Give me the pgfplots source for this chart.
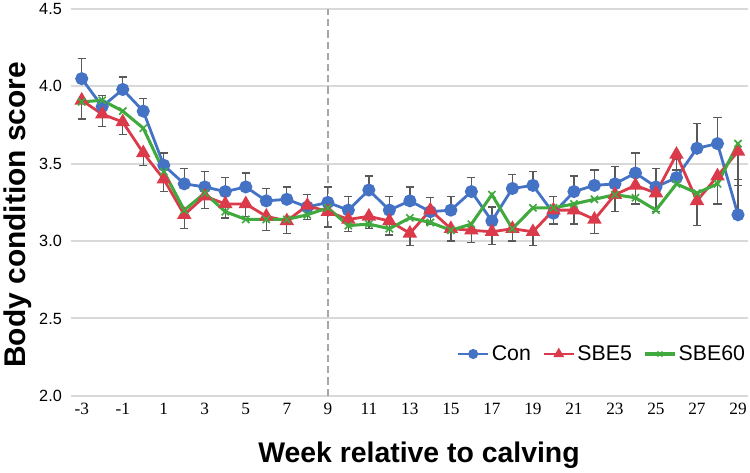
\documentclass[border=0pt]{standalone}
\usepackage{fontspec}
\setmainfont{Liberation Sans}
\newfontfamily\seriffont{Liberation Serif}
\usepackage{pgfplots}
\pgfplotsset{compat=1.18}
\usepackage{pgfplotstable}
\definecolor{conblue}{RGB}{68,114,196}
\definecolor{sbered}{RGB}{218,58,74}
\definecolor{sbegreen}{RGB}{64,170,62}
\definecolor{gridgray}{RGB}{217,217,217}
\definecolor{errgray}{RGB}{89,89,89}
\definecolor{dashgray}{RGB}{166,166,166}

\pgfplotstableread{
w con conE sbe5 sbe5E sbe60
-3 4.05 0.13 3.91 0.12 3.90
-2 3.87 0.07 3.82 0.08 3.91
-1 3.98 0.08 3.77 0.08 3.84
0 3.84 0.08 3.57 0.08 3.73
1 3.49 0.08 3.40 0.08 3.45
2 3.37 0.10 3.17 0.09 3.20
3 3.35 0.10 3.29 0.08 3.31
4 3.32 0.09 3.24 0.09 3.19
5 3.35 0.09 3.24 0.08 3.14
6 3.26 0.08 3.16 0.09 3.14
7 3.27 0.08 3.13 0.08 3.14
8 3.22 0.08 3.23 0.09 3.17
9 3.25 0.10 3.19 0.10 3.215
10 3.20 0.09 3.14 0.08 3.10
11 3.33 0.09 3.16 0.08 3.11
12 3.20 0.09 3.13 0.09 3.08
13 3.26 0.09 3.05 0.08 3.15
14 3.19 0.09 3.20 0.09 3.12
15 3.20 0.09 3.08 0.08 3.07
16 3.32 0.09 3.07 0.08 3.11
17 3.13 0.09 3.06 0.08 3.30
18 3.34 0.09 3.08 0.08 3.08
19 3.36 0.09 3.06 0.09 3.215
20 3.18 0.11 3.20 0.09 3.215
21 3.32 0.10 3.20 0.09 3.24
22 3.36 0.10 3.14 0.09 3.27
23 3.37 0.11 3.30 0.11 3.30
24 3.44 0.13 3.36 0.12 3.28
25 3.35 0.12 3.31 0.12 3.20
26 3.41 0.12 3.56 0.10 3.37
27 3.60 0.16 3.26 0.16 3.31
28 3.63 0.17 3.42 0.18 3.37
29 3.17 0.23 3.58 0.22 3.63
}\data

\begin{document}
\begin{tikzpicture}
\begin{axis}[
  scale only axis,
  width=665bp, height=380bp,
  xmin=-3.5, xmax=29.5,
  ymin=2, ymax=4.5,
  xtick={-3,-1,...,29},
  ytick={2,2.5,...,4.5},
  /pgf/number format/assume math mode=true,
  yticklabel style={/pgf/number format/fixed, /pgf/number format/fixed zerofill, /pgf/number format/precision=1},
  yticklabel style={font=\fontsize{16}{16}\selectfont, xshift=-6bp},
  xticklabel style={font=\seriffont\fontsize{17}{17}\selectfont, yshift=-4bp},
  major tick length=0pt,
  axis line style={draw=none},
  ymajorgrids,
  grid style={gridgray, line width=2bp},
  xlabel={Week relative to calving},
  ylabel={Body condition score},
  xlabel style={font=\bfseries\fontsize{28}{28}\selectfont, yshift=-20bp, xshift=9bp},
  ylabel style={font=\bfseries\fontsize{29.5}{29.5}\selectfont, at={(ticklabel cs:0.468)}, yshift=1bp},
  legend style={draw=none, fill=none, at={(rel axis cs:1,0.108)}, anchor=east,
    font=\fontsize{21}{21}\selectfont, inner sep=1bp,
    /tikz/every even column/.append style={column sep=9bp}},
  legend columns=-1,
  legend cell align=left,
  legend image code/.code={\draw[mark repeat=2,mark phase=2,#1, mark size=3.5bp] plot coordinates {(0bp,0bp)(15bp,0bp)(30bp,0bp)};},
  clip=false,
]
\draw[dashgray, dashed, dash pattern=on 7bp off 4bp, line width=1.5bp] (axis cs:9,2) -- (axis cs:9,4.5);
\addplot[conblue, line width=2.75bp, mark=*, mark size=5bp, mark options={solid},
  error bars/.cd, y dir=plus, y explicit,
  error bar style={errgray, line width=1.3bp},
  error mark options={errgray, rotate=90, mark size=4bp, line width=1.3bp}]
  table[x=w, y=con, y error=conE] {\data};
\addplot[sbered, line width=2.75bp, mark=triangle*, mark size=5.5bp, mark options={solid},
  error bars/.cd, y dir=minus, y explicit,
  error bar style={errgray, line width=1.3bp},
  error mark options={errgray, rotate=90, mark size=4bp, line width=1.3bp}]
  table[x=w, y=sbe5, y error=sbe5E] {\data};
\addplot[sbegreen, line width=3bp, mark=x, mark size=5bp, mark options={solid, line width=1.6bp}]
  table[x=w, y=sbe60] {\data};
\legend{Con, SBE5, SBE60}
\end{axis}
\end{tikzpicture}
\end{document}
